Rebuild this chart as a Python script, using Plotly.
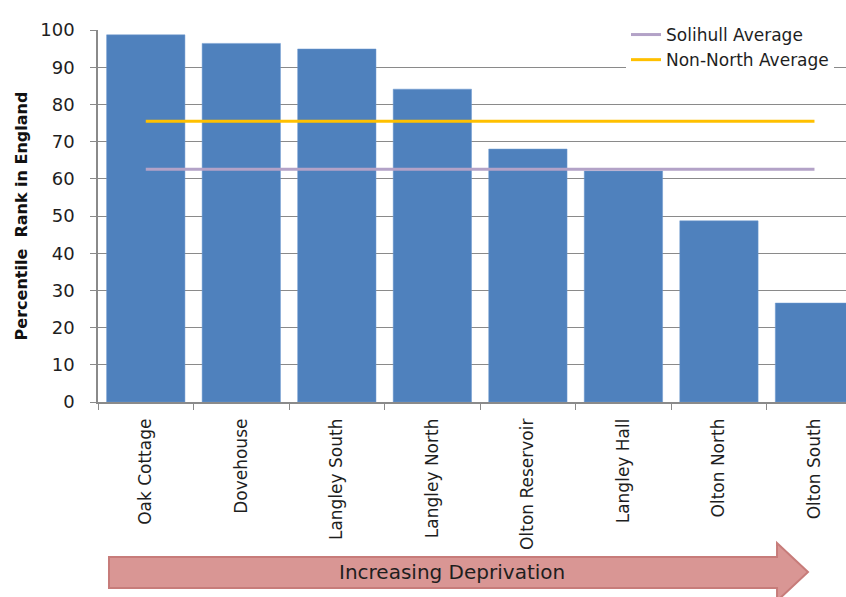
import plotly.graph_objects as go

categories = ["Oak Cottage", "Dovehouse", "Langley South", "Langley North",
              "Olton Reservoir", "Langley Hall", "Olton North", "Olton South"]
rank_values = [98.7, 96.4, 94.9, 84.1, 68.0, 62.1, 48.7, 26.6]
solihull_avg = 62.6
non_north_avg = 75.5
y_ticks = [0, 10, 20, 30, 40, 50, 60, 70, 80, 90, 100]

FONT = "DejaVu Sans"
TXT = "#1e1e1e"
GRID = "#8a8a8a"

fig = go.Figure()
fig.add_trace(go.Bar(
    x=categories, y=rank_values, width=0.82,
    marker=dict(color="#4f81bd", line=dict(color="#6f9ad0", width=0.5)),
    showlegend=False, hoverinfo="x+y",
))
fig.add_trace(go.Scatter(
    x=[categories[0], categories[-1]], y=[solihull_avg, solihull_avg],
    mode="lines", name="Solihull Average",
    line=dict(color="#b3a2c7", width=3),
))
fig.add_trace(go.Scatter(
    x=[categories[0], categories[-1]], y=[non_north_avg, non_north_avg],
    mode="lines", name="Non-North Average",
    line=dict(color="#ffc000", width=3),
))

# Arrow shape (decoration) in paper coordinates
L, R = 98, 846
T, B = 30, 402
def px(x):
    return (x - L) / (R - L)
def py(y):
    return (B - y) / (B - T)

pts = [(109, 557), (777, 557), (777, 543), (808, 572), (777, 601), (777, 588), (109, 588)]
path = "M " + " L ".join(f"{px(x):.4f},{py(y):.4f}" for x, y in pts) + " Z"
fig.add_shape(type="path", path=path, xref="paper", yref="paper",
              fillcolor="#d99694", line=dict(color="#c77c7a", width=2), layer="above")
fig.add_annotation(text="Increasing Deprivation", xref="paper", yref="paper",
                   x=px(452), y=py(572), xanchor="center", yanchor="middle",
                   showarrow=False,
                   font=dict(family=FONT, size=20, color=TXT))

fig.update_layout(
    width=846, height=597,
    margin=dict(l=L, r=846 - R, t=T, b=597 - B, autoexpand=False),
    plot_bgcolor="white", paper_bgcolor="white",
    font=dict(family=FONT, color=TXT),
    legend=dict(x=px(626), y=py(17), xanchor="left", yanchor="top",
                bgcolor="white", font=dict(family=FONT, size=17, color=TXT),
                tracegroupgap=0, itemwidth=30),
    xaxis=dict(
        type="category", categoryorder="array", categoryarray=categories,
        range=[-0.5, 7.33], tickson="boundaries", ticks="outside", ticklen=6,
        tickcolor=GRID, showline=True, linecolor=GRID, linewidth=1.5,
        tickangle=-90, tickfont=dict(family=FONT, size=17, color=TXT),
        ticklabelstandoff=8,
        showgrid=False, automargin=False,
    ),
    yaxis=dict(
        range=[0, 100], tickvals=y_ticks, ticks="outside", ticklen=6,
        tickcolor=GRID, showline=True, linecolor=GRID, linewidth=1.5,
        showgrid=True, gridcolor=GRID, gridwidth=1.2, zeroline=False,
        tickfont=dict(family=FONT, size=18, color=TXT), ticklabelstandoff=12,
        automargin=False,
        title=dict(text="Percentile  Rank in England", standoff=9,
                   font=dict(family=FONT, size=16, color="#111111", weight="bold")),
    ),
)

fig.write_html(
    "out.html",
    config={"displayModeBar": False},
    post_script="document.body.style.margin='0';document.body.style.overflow='hidden';",
)
